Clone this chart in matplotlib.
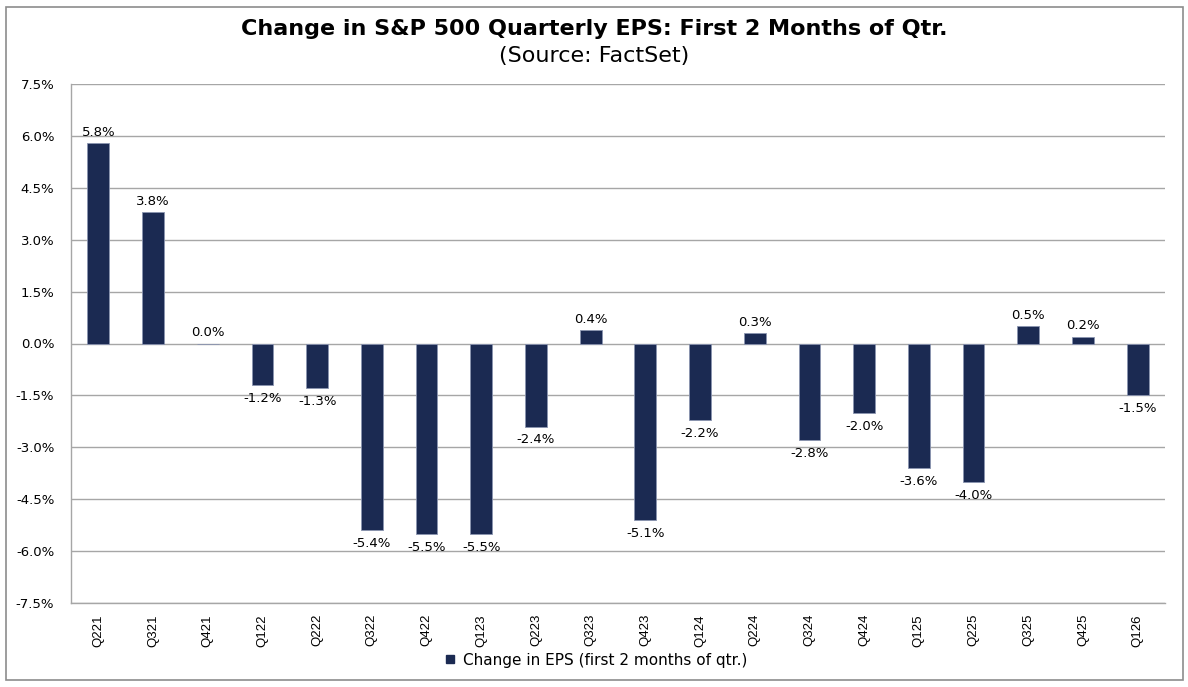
import matplotlib.pyplot as plt
from matplotlib.patches import Rectangle
from matplotlib.lines import Line2D
import numpy as np

plt.rcParams['font.family'] = ['DejaVu Sans']

quarters = ['Q221', 'Q321', 'Q421', 'Q122', 'Q222', 'Q322', 'Q422', 'Q123', 'Q223', 'Q323',
            'Q423', 'Q124', 'Q224', 'Q324', 'Q424', 'Q125', 'Q225', 'Q325', 'Q425', 'Q126']
eps_change = [5.8, 3.8, 0.0, -1.2, -1.3, -5.4, -5.5, -5.5, -2.4, 0.4,
              -5.1, -2.2, 0.3, -2.8, -2.0, -3.6, -4.0, 0.5, 0.2, -1.5]
yticks = [7.5, 6.0, 4.5, 3.0, 1.5, 0.0, -1.5, -3.0, -4.5, -6.0, -7.5]

navy = '#1b2a52'

fig = plt.figure(figsize=(11.88, 6.87), dpi=100)
ax = fig.add_axes([71/1188, 1-603/687, (1165-71)/1188, (603-84)/687])

x = np.arange(len(quarters))
ax.bar(x, eps_change, width=0.4, color=navy, edgecolor='#8a94b0', linewidth=0.6, zorder=3)

for xi, v in zip(x, eps_change):
    if v >= 0:
        ax.text(xi, v + 0.12, f'{v:.1f}%', ha='center', va='bottom', fontsize=9.5)
    else:
        ax.text(xi, v - 0.2, f'{v:.1f}%', ha='center', va='top', fontsize=9.5)

ax.set_xlim(-0.5, len(quarters) - 0.5)
ax.set_ylim(-7.5, 7.5)
ax.set_yticks(yticks)
ax.set_yticklabels([f'{t:.1f}%' for t in yticks], fontsize=9.5)
ax.set_xticks(x)
ax.set_xticklabels(quarters, rotation=90, fontsize=9.5, family='Liberation Sans')
ax.tick_params(axis='y', length=0, pad=12)
ax.tick_params(axis='x', length=0, pad=8)
ax.yaxis.grid(True, color='#a6a6a6', linewidth=1, zorder=0)
for s in ['top', 'right']:
    ax.spines[s].set_visible(False)
for s in ['left', 'bottom']:
    ax.spines[s].set_color('#a6a6a6')
    ax.spines[s].set_linewidth(1)

fig.text(0.5, 1-29/687, 'Change in S&P 500 Quarterly EPS: First 2 Months of Qtr.',
         ha='center', va='center', fontsize=16, fontweight='bold')
fig.text(0.5, 1-56/687, '(Source: FactSet)', ha='center', va='center', fontsize=16)

handle = Line2D([], [], marker='s', color='none', markerfacecolor=navy,
                markeredgecolor=navy, markersize=6)
fig.legend([handle], ['Change in EPS (first 2 months of qtr.)'], loc='center',
           bbox_to_anchor=(0.5, 1-660/687), frameon=False, fontsize=11,
           handletextpad=0.3, handlelength=1.2)

fig.patches.append(Rectangle((6/1188, 1-680/687), 1177/1188, 673/687, transform=fig.transFigure,
                             fill=False, edgecolor='#8c8c8c', linewidth=1.2))

fig.savefig('out.png', dpi=100)
